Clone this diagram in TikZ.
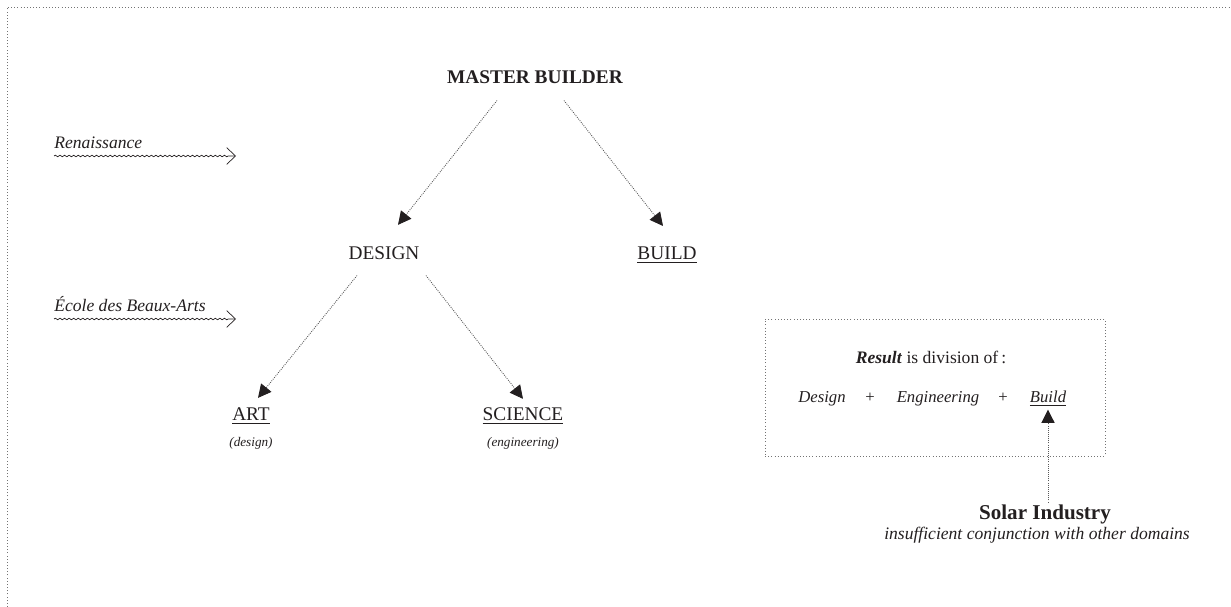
\documentclass[tikz,border=0pt]{standalone}
\usepackage{fontspec}
\setmainfont{Liberation Serif}
\usetikzlibrary{arrows.meta,decorations.pathmorphing}
\definecolor{ink}{HTML}{231F20}
\tikzset{
  lbl/.style={anchor=base,inner sep=0pt,text=ink,font=\fontsize{11}{13}\selectfont},
  sublbl/.style={anchor=base,inner sep=0pt,text=ink,font=\fontsize{7.5}{9}\selectfont\itshape},
  rowlbl/.style={anchor=base,inner sep=0pt,text=ink,font=\fontsize{9.5}{11}\selectfont\itshape},
  link/.style={draw=black!65,line width=0.5pt,dash pattern=on 0.5pt off 0.7pt,
    -{Triangle[length=7.5pt,width=7.5pt,color=ink]}},
  era/.style={draw=ink,line width=0.4pt,decorate,
    decoration={snake,amplitude=0.45pt,segment length=2.6pt,post length=4pt},
    -{Straight Barb[length=5pt,width=9.5pt]}},
  frame/.style={draw=black!55,line width=0.5pt,dash pattern=on 0.5pt off 1.3pt}
}
\begin{document}
\begin{tikzpicture}[x=0.02cm,y=-0.02cm]
\useasboundingbox (0,0) rectangle (1231,607);

%Rahmen
\draw[frame] (7,607) -- (7,7) -- (1231,7);

%Baum
\node[lbl,font=\fontsize{11}{13}\selectfont\bfseries] (master) at (535,84) {MASTER BUILDER};
\node[lbl] (design) at (384,260) {DESIGN};
\node[lbl] (build) at (667,260) {\underline{BUILD}};
\node[lbl] (art) at (251,421) {\underline{ART}};
\node[sublbl] (artsub) at (251,447) {(design)};
\node[lbl] (science) at (523,421) {\underline{SCIENCE}};
\node[sublbl] (scisub) at (523,447) {(engineering)};

\draw[link] ([shift={(-38,16)}]master.south) -- ([shift={(14,-22)}]design.north);
\draw[link] ([shift={(29,16)}]master.south) -- ([shift={(-4,-21)}]build.north);
\draw[link] ([shift={(-27,15)}]design.south) -- ([shift={(7,-10)}]art.north);
\draw[link] ([shift={(42,15)}]design.south) -- ([shift={(0,-9)}]science.north);

%Epochen
\node[lbl,anchor=base west,font=\fontsize{10}{12}\selectfont\itshape] (ren) at (54,149) {Renaissance};
\coordinate (renend) at (236,156);
\draw[era] ([shift={(0,7)}]ren.base west) -- (renend);
\node[lbl,anchor=base west,font=\fontsize{10}{12}\selectfont\itshape] (ecole) at (54,312) {École des Beaux-Arts};
\coordinate (ecoleend) at (236,319);
\draw[era] ([shift={(0,7)}]ecole.base west) -- (ecoleend);

%Ergebnis
\node[frame,minimum width=6.8cm,minimum height=2.74cm,inner sep=0pt] (resbox) at (935,387.5) {};
\node[lbl,font=\fontsize{10}{12}\selectfont] (resline) at (931,364) {\textbf{\textit{Result}} is division of\,:};
\node[rowlbl] (dsg) at (822,403) {Design};
\node[rowlbl,font=\fontsize{9.5}{11}\selectfont] (plusa) at (870,403) {+};
\node[rowlbl] (eng) at (938,403) {Engineering};
\node[rowlbl,font=\fontsize{9.5}{11}\selectfont] (plusb) at (1003,403) {+};
\node[rowlbl] (bld) at (1048,403) {\underline{Build}};

%Solar
\node[lbl,font=\fontsize{12}{14}\selectfont\bfseries] (solar) at (1045,520) {Solar Industry};
\node[lbl,font=\fontsize{10}{12}\selectfont\itshape] (note) at (1037,540) {insufficient conjunction with other domains};
\draw[link,shorten <=1.5pt,shorten >=1.5pt] (bld.south |- solar.north) -- (bld.south);

\end{tikzpicture}
\end{document}
